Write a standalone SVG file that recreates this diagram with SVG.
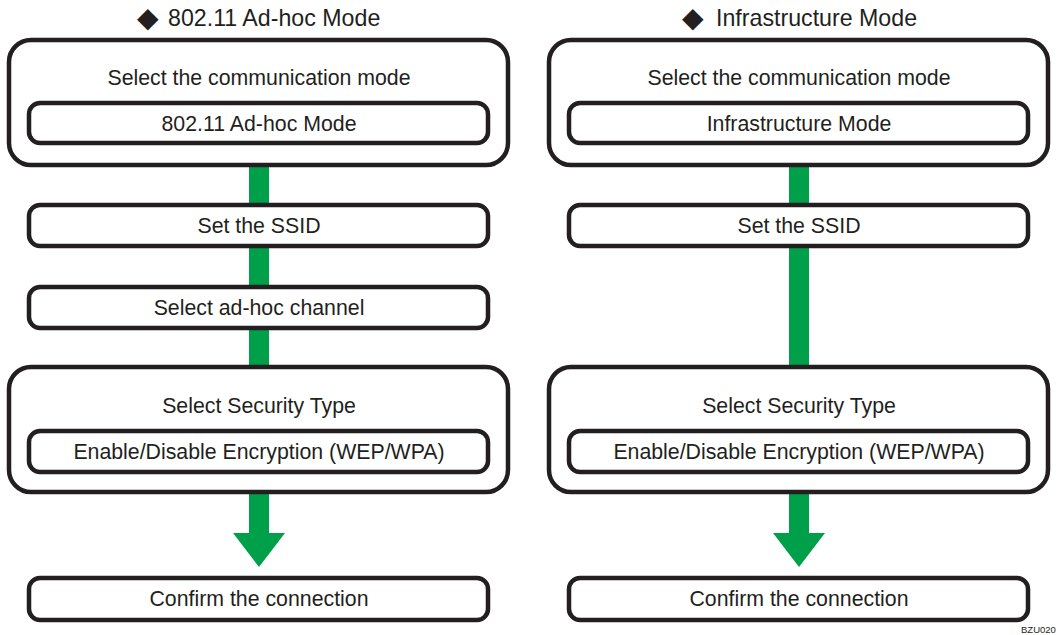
<svg xmlns="http://www.w3.org/2000/svg" width="1058" height="635" viewBox="0 0 1058 635">
<defs>
<style>
.box{fill:#fff;stroke:#231f20;stroke-width:4.5}
.t{font-family:"Liberation Sans",Arial,sans-serif;font-size:21.3px;fill:#231f20;text-anchor:middle}
.h{font-family:"Liberation Sans",Arial,sans-serif;font-size:23.2px;fill:#231f20}
.d{font-size:28px}
.g{fill:#00a04b}
</style>
</defs>
<rect width="1058" height="635" fill="#fff"/>
<g id="connectors">
<rect class="g" x="249" y="160" width="20" height="212"/>
<rect class="g" x="249" y="488" width="20" height="46"/>
<polygon class="g" points="233,533 285,533 259,567"/>
<rect class="g" x="789" y="160" width="20" height="212"/>
<rect class="g" x="789" y="488" width="20" height="46"/>
<polygon class="g" points="773,533 825,533 799,567"/>
</g>
<g id="title-left"><text class="h" y="26"><tspan class="d" x="137" y="27">◆</tspan><tspan x="168" y="26">802.11 Ad-hoc Mode</tspan></text></g>
<g id="title-right"><text class="h" y="26"><tspan class="d" x="682" y="27">◆</tspan><tspan x="716" y="26">Infrastructure Mode</tspan></text></g>
<g id="left-mode">
<rect class="box" x="9" y="40" width="499" height="125" rx="22"/>
<text class="t" x="259" y="85">Select the communication mode</text>
<rect class="box" x="29" y="103" width="459" height="40" rx="11"/>
<text class="t" x="259" y="131">802.11 Ad-hoc Mode</text>
</g>
<g id="left-ssid">
<rect class="box" x="29" y="205" width="459" height="41" rx="11"/>
<text class="t" x="259" y="233">Set the SSID</text>
</g>
<g id="left-channel">
<rect class="box" x="29" y="287" width="459" height="41" rx="11"/>
<text class="t" x="259" y="315">Select ad-hoc channel</text>
</g>
<g id="left-security">
<rect class="box" x="9" y="367" width="499" height="125" rx="22"/>
<text class="t" x="259" y="413">Select Security Type</text>
<rect class="box" x="29" y="431" width="459" height="41" rx="11"/>
<text class="t" x="259" y="459">Enable/Disable Encryption (WEP/WPA)</text>
</g>
<g id="left-confirm">
<rect class="box" x="29" y="578" width="459" height="42" rx="11"/>
<text class="t" x="259" y="606">Confirm the connection</text>
</g>
<g id="right-mode">
<rect class="box" x="549" y="40" width="499" height="125" rx="22"/>
<text class="t" x="799" y="85">Select the communication mode</text>
<rect class="box" x="569" y="103" width="459" height="40" rx="11"/>
<text class="t" x="799" y="131">Infrastructure Mode</text>
</g>
<g id="right-ssid">
<rect class="box" x="569" y="205" width="459" height="41" rx="11"/>
<text class="t" x="799" y="233">Set the SSID</text>
</g>
<g id="right-security">
<rect class="box" x="549" y="367" width="499" height="125" rx="22"/>
<text class="t" x="799" y="413">Select Security Type</text>
<rect class="box" x="569" y="431" width="459" height="41" rx="11"/>
<text class="t" x="799" y="459">Enable/Disable Encryption (WEP/WPA)</text>
</g>
<g id="right-confirm">
<rect class="box" x="569" y="578" width="459" height="42" rx="11"/>
<text class="t" x="799" y="606">Confirm the connection</text>
</g>
<text x="1021" y="633" font-family="Liberation Sans,Arial,sans-serif" font-size="9.5" fill="#231f20">BZU020</text>
</svg>
